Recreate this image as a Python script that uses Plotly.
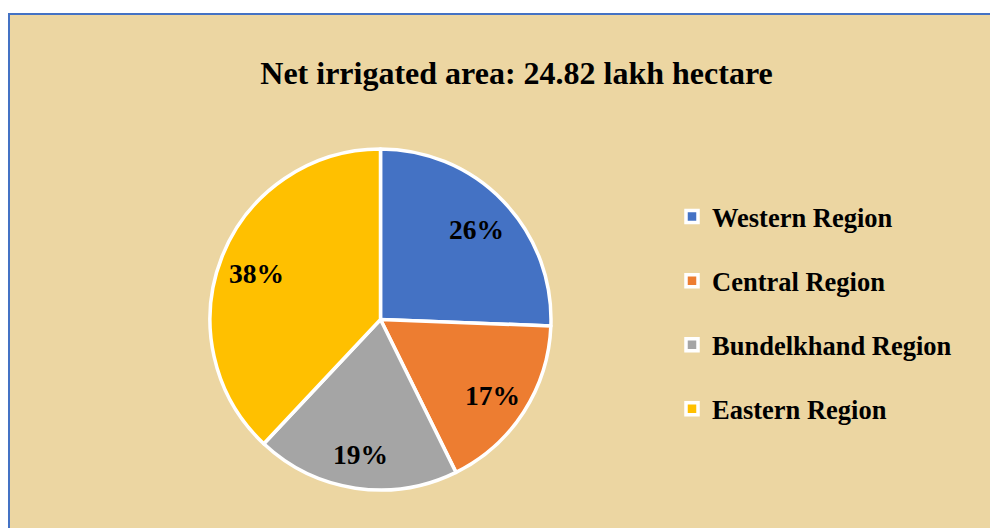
import math
import plotly.graph_objects as go

# Data
regions = ["Western Region", "Central Region", "Bundelkhand Region", "Eastern Region"]
shares = [25.6, 17.1, 19.3, 38.0]
colors = ["#4472C4", "#ED7D31", "#A5A5A5", "#FFC000"]
title_text = "Net irrigated area: 24.82 lakh hectare"

# Figure is drawn inside the page's 8px body margin
W, H = 998, 520
BG = "#ECD6A2"

CX, CY, R = 372.5, 311.5, 170.5  # pie centre / radius in figure pixels

fig = go.Figure(
    go.Pie(
        labels=["<span style='font-size:26.5px;baseline-shift:8px'><b>" + r + "</b></span>"
                for r in regions],
        values=shares,
        sort=False,
        direction="clockwise",
        rotation=0,
        marker=dict(colors=colors, line=dict(color="white", width=3.5)),
        textinfo="none",
        hovertext=regions,
        hoverinfo="text+percent",
        domain=dict(x=[(CX - R) / W, (CX + R) / W],
                    y=[(H - CY - R) / H, (H - CY + R) / H]),
    )
)

# Percentage labels placed along each slice's bisector (Excel-style)
total = sum(shares)
annotations = []
cum = 0.0
for v in shares:
    mid = (cum + v / 2) / total
    cum += v
    ang = 2 * math.pi * mid
    k = 0.785 * R
    px = CX + k * math.sin(ang)
    py = CY - k * math.cos(ang) + 3
    annotations.append(dict(
        x=px / W, y=1 - py / H, xref="paper", yref="paper",
        text="<b>%d%%</b>" % round(v / total * 100),
        showarrow=False, xanchor="center", yanchor="middle",
        font=dict(family="Liberation Serif", size=27.5, color="black"),
    ))

fig.update_layout(
    width=W, height=H,
    margin=dict(l=0, r=0, t=0, b=0),
    paper_bgcolor="white",
    font=dict(family="Liberation Serif", color="black"),
    title=dict(
        text="<b>" + title_text + "</b>",
        x=508.5 / W, xanchor="center", xref="paper",
        y=1 - 65 / H, yanchor="middle", yref="paper",
        font=dict(family="Liberation Serif", size=32, color="black"),
    ),
    legend=dict(
        x=664 / W, xanchor="left",
        y=1 - 305 / H, yanchor="middle",
        font=dict(family="Liberation Serif", size=47, color="black"),
        bgcolor="rgba(0,0,0,0)",
        itemwidth=30,
    ),
    annotations=annotations,
    shapes=[
        dict(type="rect", xref="paper", yref="paper",
             x0=1 / W, x1=1.02, y0=-0.02, y1=1 - 6 / H,
             fillcolor=BG, line=dict(color="#4472C4", width=2), layer="below"),
    ],
)

fig.write_html(
    "out.html",
    post_script="document.documentElement.style.overflow='hidden';"
                "document.body.style.overflow='hidden';",
)
